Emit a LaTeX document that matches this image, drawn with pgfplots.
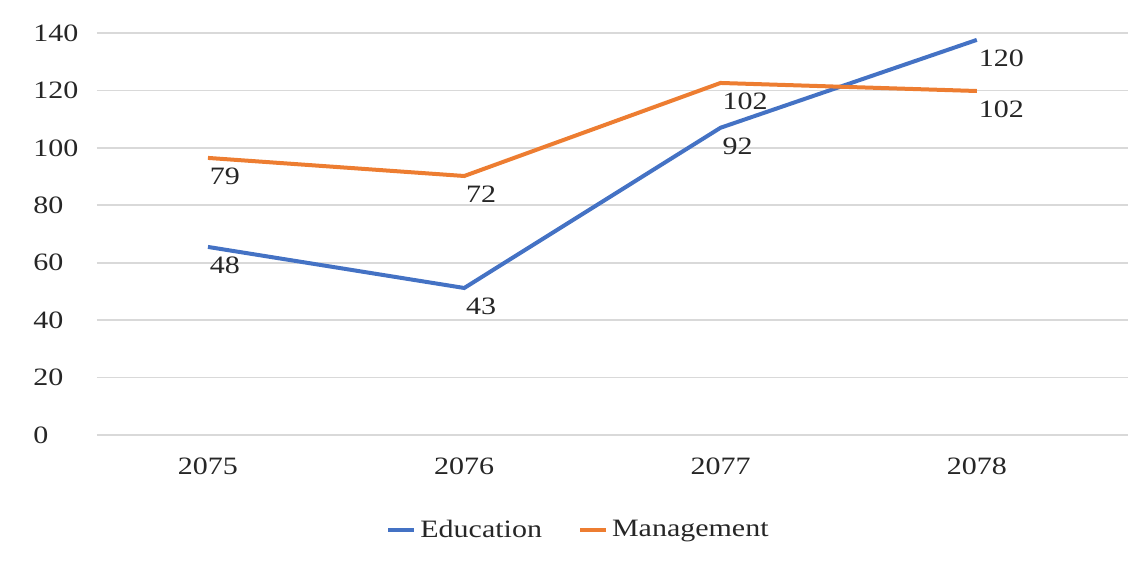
\documentclass[border=0pt]{standalone}
\usepackage{fontspec}
\setmainfont{Liberation Serif}[FakeStretch=1.2]
\usepackage{pgfplots}
\pgfplotsset{compat=1.18}
\definecolor{edu}{HTML}{4472C4}
\definecolor{mgt}{HTML}{ED7D31}
\definecolor{gridc}{HTML}{D9D9D9}
\definecolor{txt}{HTML}{262626}
\begin{document}
\begin{tikzpicture}
\begin{axis}[
  scale only axis, width=515.5pt, height=201pt,
  xmin=-0.433, xmax=3.59, ymin=0, ymax=140,
  xtick={0,1,2,3}, xticklabels={2075,2076,2077,2078},
  ytick={0,20,...,140},
  ymajorgrids, major grid style={gridc, line width=0.8pt},
  axis line style={draw=none}, tick style={draw=none},
  font=\fontsize{12.5}{14}\selectfont,
  tick label style={text=txt},
  /pgf/number format/assume math mode=true,
  yticklabel style={anchor=west, inner sep=0pt, xshift=-32pt},
  xticklabel style={yshift=-8pt},
  legend style={at={(rel axis cs:0.468,0)}, anchor=center, yshift=-47.5pt,
    draw=none, fill=none, text=txt, font=\fontsize{12.5}{14}\selectfont,
    /tikz/every even column/.append style={column sep=16pt}},
  legend columns=-1,
  legend image code/.code={\draw[#1] (0pt,0pt) -- (13pt,0pt);},
  every node near coord/.append style={anchor=north west, inner sep=0pt, yshift=-4pt, text=txt, font=\fontsize{12.5}{14}\selectfont},
]
\addplot[edu, line width=2pt, nodes near coords, point meta=explicit symbolic] table[meta=label] {
x y label
0 65.5 48
1 51.2 43
2 107 92
3 137.6 120
};
\addlegendentry{Education}
\addplot[mgt, line width=2pt, nodes near coords, point meta=explicit symbolic] table[meta=label] {
x y label
0 96.5 79
1 90.2 72
2 122.6 102
3 119.8 102
};
\addlegendentry{Management}
\coordinate (sw) at (rel axis cs:0,0);
\coordinate (ne) at (rel axis cs:1,1);
\end{axis}
\path ([shift={(-48.5pt,-67pt)}]sw) rectangle ([shift={(8.5pt,16.5pt)}]ne);
\end{tikzpicture}
\end{document}
